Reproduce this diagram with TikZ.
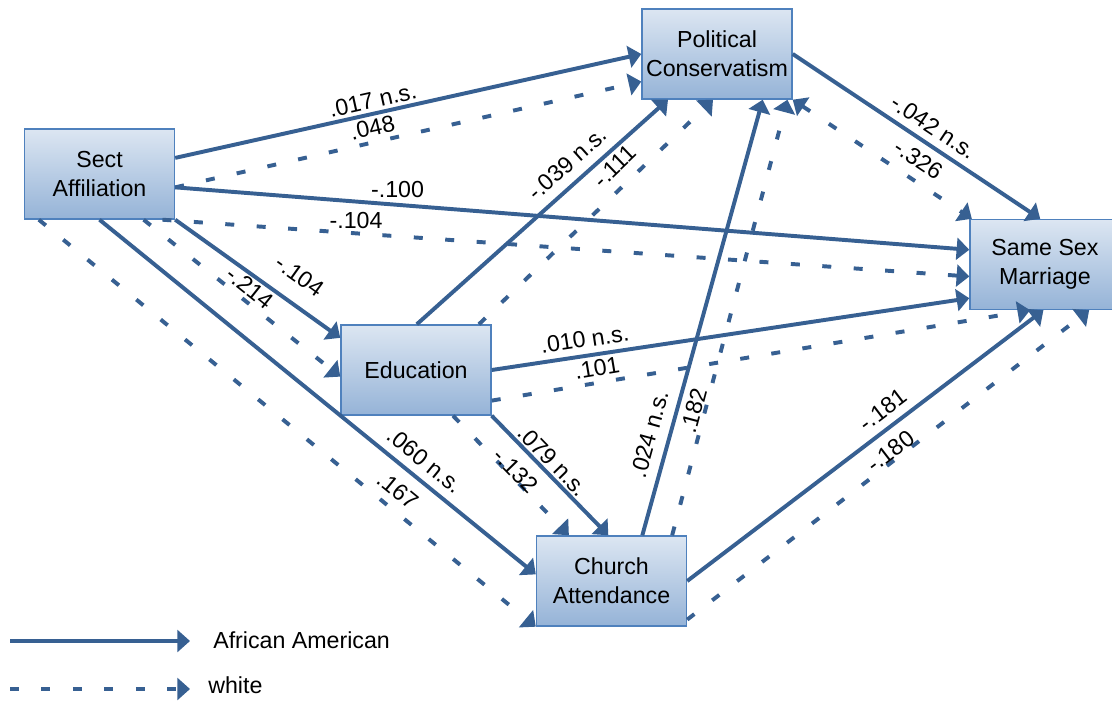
\documentclass[tikz,border=0pt]{standalone}
\usepackage{fontspec}
\setmainfont{Liberation Sans}
\usetikzlibrary{arrows.meta}
\definecolor{pathblue}{HTML}{376092}
\definecolor{boxedge}{HTML}{4F81BD}
\definecolor{boxtop}{HTML}{DCE6F2}
\definecolor{boxbottom}{HTML}{95B3D7}

\begin{document}
\begin{tikzpicture}[x=0.025cm, y=-0.025cm,
    >={Triangle[length=9pt,width=15.5pt]},
    box/.style={draw=boxedge, line width=1pt, top color=boxtop,
      bottom color=boxbottom, minimum width=3.75cm, minimum height=2.25cm,
      align=center, inner sep=2pt, font=\fontsize{16.5}{20.5}\selectfont},
    aa/.style={draw=pathblue, line width=2.8pt, ->},
    wh/.style={aa, dash pattern=on 6.4pt off 16pt},
    lbl/.style={font=\fontsize{16.5}{19}\selectfont, inner sep=0pt}]
      \useasboundingbox (0,0) rectangle (1112,702);

      % Boxes
      \node[box] (sect) at (99.5,174) {Sect\\Affiliation};
      \node[box] (pol) at (717,54) {Political\\Conservatism};
      \node[box] (ssm) at (1045,264.5) {Same Sex\\Marriage};
      \node[box] (edu) at (416,370) {Education};
      \node[box] (church) at (611.5,581) {Church\\Attendance};

      % Arcs from Sect Affiliation
      \draw[aa] (sect.12) -- (pol.west)
        node[lbl, sloped, pos=.43, above=2.3pt] {.017 n.s.}
      ;
      \draw[wh] (sect.-10) -- (pol.-160)
        node[lbl, sloped, pos=.43, above=3.2pt] {.048}
      ;
      \draw[aa] (sect.-10) -- (ssm.169)
        node[lbl, pos=.28, above=3.6pt] {-.100}
      ;
      \draw[wh] (sect.-36) -- (ssm.-171)
        node[lbl, pos=.24, above=1.7pt] {-.104}
      ;
      \draw[aa] (sect.south east) -- (edu.157)
        node[lbl, sloped, pos=.66, above=12pt] {-.104}
      ;
      \draw[wh] (sect.-46) -- (edu.-175)
        node[lbl, sloped, pos=.5, above=2.4pt] {-.214}
      ;
      \draw[aa] (sect.south) -- (church.175)
        node[lbl, sloped, pos=.72, above=6pt] {.060 n.s.}
      ;
      \draw[wh] (sect.-143) -- (church.south west)
        node[lbl, sloped, pos=.7, above=6pt] {.167}
      ;

      % Arcs from Education
      \draw[aa] (edu.89) -- (pol.-137)
        node[lbl, sloped, pos=.65, above=6.6pt] {-.039 n.s.}
      ;
      \draw[wh] (edu.36) -- (pol.-95)
        node[lbl, sloped, pos=.64, above=7.1pt] {-.111}
      ;
      \draw[aa] (edu.east) -- (ssm.-156)
        node[lbl, sloped, pos=.2, above=4.6pt] {.010 n.s.}
      ;
      \draw[wh] (edu.-22) -- (ssm.-108)
        node[lbl, sloped, pos=.2, above=3pt] {.101}
      ;
      \draw[aa] (edu.south east) -- (church.94)
        node[lbl, sloped, pos=.45, above=1.4pt] {.079 n.s.}
      ;
      \draw[wh] (edu.-51) -- (church.133)
        node[lbl, sloped, pos=.5, above=-2.3pt] {-.132}
      ;

      % Arcs from Church Attendance
      \draw[aa] (church.56) -- (pol.-45)
        node[lbl, sloped, pos=.22, above=7pt] {.024 n.s.}
      ;
      \draw[wh] (church.37) -- (pol.-33)
        node[lbl, sloped, pos=.28, above=.5pt] {.182}
      ;
      \draw[aa] (church.east) -- (ssm.-92)
        node[lbl, sloped, pos=.58, above=5.5pt] {-.181}
      ;
      \draw[wh] (church.-27) -- (ssm.-46)
        node[lbl, sloped, pos=.52, above=-.5pt] {-.180}
      ;

      % Arcs from Political Conservatism
      \draw[aa] (pol.east) -- (ssm.96)
        node[lbl, sloped, pos=.53, above=5pt] {-.042 n.s.}
      ;
      \draw[wh, <->] (pol.south east) -- (ssm.148)
        node[lbl, sloped, pos=.64, above=6.8pt] {-.326}
      ;

      % Legend
      \coordinate (aa-a) at (10,641);
      \coordinate (aa-b) at (190,641);
      \draw[aa] (aa-a) -- (aa-b);
      \node[lbl, anchor=base west] (aa-txt) at (213,648) {African American};
      \coordinate (wh-a) at (10,689);
      \coordinate (wh-b) at (190,689);
      \draw[wh] (wh-a) -- (wh-b);
      \node[lbl, anchor=base west] (wh-txt) at (208,693) {white};
    \end{tikzpicture}
\end{document}
